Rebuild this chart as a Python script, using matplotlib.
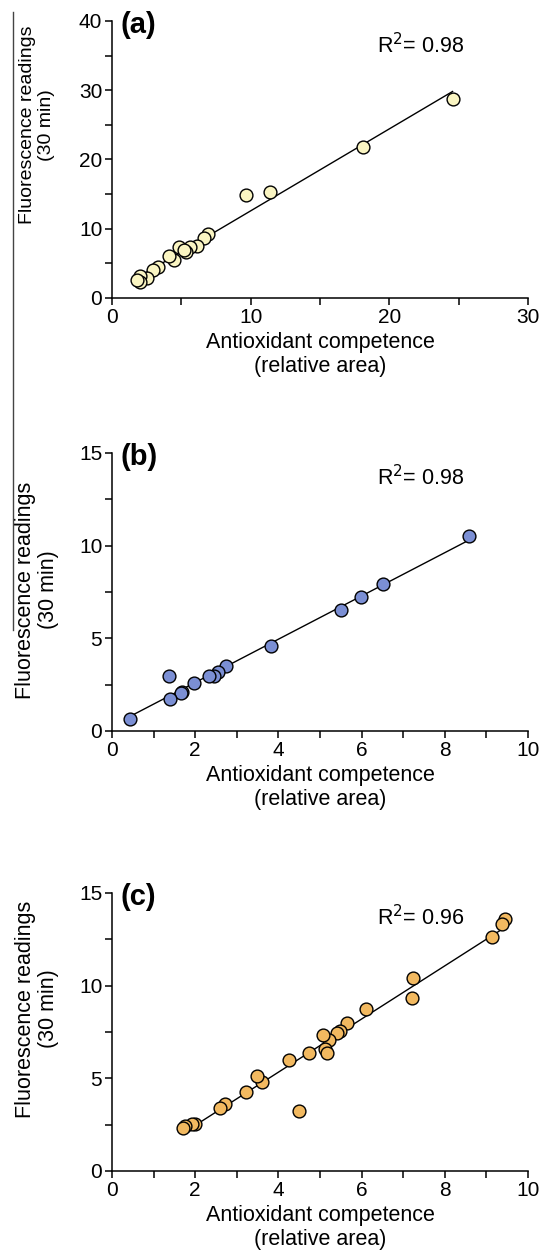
import numpy as np
import matplotlib
matplotlib.use("Agg")
import matplotlib.pyplot as plt
from matplotlib.ticker import MultipleLocator
from matplotlib.lines import Line2D

plt.rcParams['font.family'] = ['Liberation Sans', 'DejaVu Sans']

# ---------------- data ----------------
a_x = [24.56, 18.12, 11.42, 9.69, 6.90, 6.63, 6.10, 5.62, 5.31, 4.86, 5.20,
       4.50, 4.13, 3.34, 2.98, 2.55, 2.02, 2.02, 1.78]
a_y = [28.8, 21.85, 15.26, 14.87, 9.2, 8.6, 7.5, 7.3, 6.6, 7.4, 6.9,
       5.5, 6.1, 4.5, 4.0, 2.9, 3.2, 2.3, 2.6]

b_x = [8.59, 6.51, 5.99, 5.50, 3.82, 2.75, 2.56, 2.45, 2.33, 1.98, 1.68,
       1.65, 1.38, 1.39, 0.44]
b_y = [10.52, 7.92, 7.21, 6.51, 4.60, 3.51, 3.20, 2.96, 2.97, 2.57, 2.12,
       2.03, 2.97, 1.73, 0.65]

c_x = [9.45, 9.37, 9.13, 7.24, 7.22, 6.11, 5.66, 5.48, 5.42, 5.22, 5.08,
       5.13, 5.16, 4.74, 4.25, 4.50, 3.60, 3.48, 3.23, 2.71, 2.60, 2.00,
       1.92, 1.75, 1.71]
c_y = [13.58, 13.31, 12.61, 10.43, 9.35, 8.76, 8.00, 7.57, 7.45, 7.07, 7.34,
       6.57, 6.39, 6.35, 5.99, 3.26, 4.82, 5.15, 4.25, 3.60, 3.38, 2.54,
       2.52, 2.45, 2.34]

panel_labels = ['(a)', '(b)', '(c)']
r2_labels = ['R$^2$= 0.98', 'R$^2$= 0.98', 'R$^2$= 0.96']
xlims = [30, 10, 10]
ylims = [40, 15, 15]
x_major = [10, 2, 2]
x_minor = [5, 1, 1]
y_major = [10, 5, 5]
y_minor = [5, 2.5, 2.5]
colors = ['#FAF5C2', '#7B8FD4', '#F2B960']

xlabel = 'Antioxidant competence\n(relative area)'
ylabel = 'Fluorescence readings\n(30 min)'

# ---------------- figure ----------------
W, H = 543, 1258
fig = plt.figure(figsize=(W / 100, H / 100), dpi=100)

left_px, right_px = 112, 528
panels_px = [(21, 298), (453, 731), (893, 1171)]
ylabel_center_px = [125, 590, 1009]
ylabel_sizes = [14, 15.5, 15.5]

datasets = [(a_x, a_y), (b_x, b_y), (c_x, c_y)]

for i, ((xs, ys), (top, bot)) in enumerate(zip(datasets, panels_px)):
    ax = fig.add_axes([left_px / W, 1 - bot / H, (right_px - left_px) / W, (bot - top) / H])
    xs = np.asarray(xs)
    ys = np.asarray(ys)
    slope, inter = np.polyfit(xs, ys, 1)
    xx = np.array([xs.min(), xs.max()])
    ax.plot(xx, slope * xx + inter, color='black', lw=1.0, zorder=2)
    ax.scatter(xs, ys, s=85, facecolor=colors[i], edgecolor='black',
               linewidth=1.0, zorder=3, clip_on=False)

    ax.set_xlim(0, xlims[i])
    ax.set_ylim(0, ylims[i])
    ax.xaxis.set_major_locator(MultipleLocator(x_major[i]))
    ax.xaxis.set_minor_locator(MultipleLocator(x_minor[i]))
    ax.yaxis.set_major_locator(MultipleLocator(y_major[i]))
    ax.yaxis.set_minor_locator(MultipleLocator(y_minor[i]))
    for s in ['top', 'right']:
        ax.spines[s].set_visible(False)
    for s in ['left', 'bottom']:
        ax.spines[s].set_linewidth(1.1)
    ax.tick_params(which='both', direction='out', length=5, width=1.1,
                   labelsize=15, pad=2)

    ax.set_xlabel(xlabel, fontsize=15.5, labelpad=4, linespacing=1.15)
    lab = ax.set_ylabel(ylabel, fontsize=ylabel_sizes[i], va='center',
                        linespacing=1.15)
    ax.yaxis.set_label_coords(-0.18, (bot - ylabel_center_px[i]) / (bot - top))

    ax.text(0.02, 1.035, panel_labels[i], transform=ax.transAxes,
            fontsize=21, fontweight='bold', ha='left', va='top')
    ax.text(0.637, 0.885, r2_labels[i], transform=ax.transAxes,
            fontsize=15.5, ha='left', va='baseline')

# stray vertical rule at the far left of the original image
fig.add_artist(Line2D([13 / W, 13 / W], [1 - 12 / H, 1 - 630 / H],
                      transform=fig.transFigure, color='#444444', lw=1.0))

fig.savefig('out.png', dpi=100)
